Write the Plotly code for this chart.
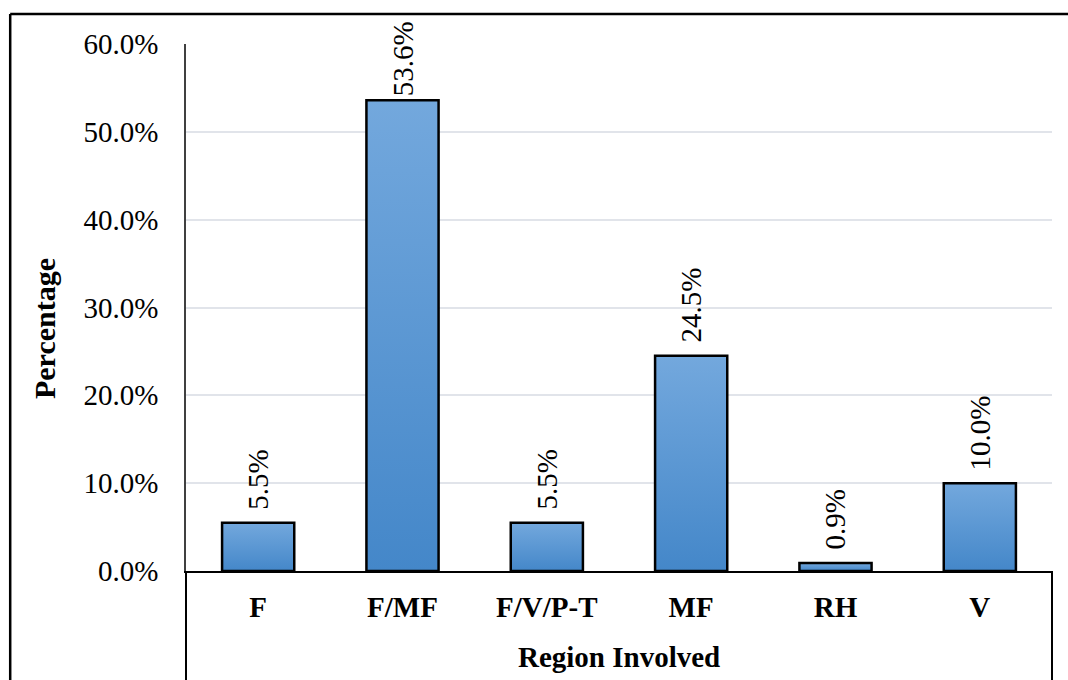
import plotly.graph_objects as go

# Share of cases by region involved
categories = ["F", "F/MF", "F/V/P-T", "MF", "RH", "V"]
values = [0.055, 0.536, 0.055, 0.245, 0.009, 0.100]
labels = ["5.5%", "53.6%", "5.5%", "24.5%", "0.9%", "10.0%"]

FONT = "Times New Roman, Liberation Serif, serif"
FS = 29
BAR_W = 0.5
TOP_COLOR = "#73a8dd"
BOTTOM_COLOR = "#4487c9"

fig = go.Figure()

# Each bar: gradient fill (light at the top, darker at the base) with a black outline
for i, v in enumerate(values):
    x0, x1 = i - BAR_W / 2, i + BAR_W / 2
    fig.add_trace(go.Scatter(
        x=[x0, x1, x1, x0, x0],
        y=[0, 0, v, v, 0],
        mode="lines",
        line=dict(color="black", width=2.5),
        fill="toself",
        fillgradient=dict(type="vertical",
                          colorscale=[[0, BOTTOM_COLOR], [1, TOP_COLOR]]),
        hoverinfo="skip",
        showlegend=False,
        cliponaxis=False,
    ))

# Rotated value labels above the bars
value_labels = []
for i, (v, lab) in enumerate(zip(values, labels)):
    value_labels.append(dict(
        x=i, y=v, xref="x", yref="y", text=lab, textangle=-90,
        xanchor="center", yanchor="bottom", showarrow=False,
        yshift=2 if v > 0.5 else 11,
        font=dict(family=FONT, size=FS, color="black"),
    ))

fig.update_layout(
    width=1068, height=680,
    margin=dict(l=186, r=16, t=44, b=109),
    paper_bgcolor="white", plot_bgcolor="white",
    font=dict(family=FONT, size=FS, color="black"),
    showlegend=False,
    xaxis=dict(
        range=[-0.5, len(categories) - 0.5],
        tickvals=list(range(len(categories))),
        ticktext=categories,
        tickfont=dict(family=FONT, size=FS, color="black", weight="bold"),
        showgrid=False, zeroline=False,
        showline=True, linecolor="black", linewidth=2,
        ticks="outside", ticklen=9, tickcolor="rgba(0,0,0,0)",
        fixedrange=True,
    ),
    yaxis=dict(
        range=[0, 0.6],
        dtick=0.1,
        tickformat=".1%",
        tickfont=dict(family=FONT, size=FS, color="black"),
        showgrid=True, gridcolor="#e1e4ea", gridwidth=1.5,
        zeroline=False,
        showline=True, linecolor="#404040", linewidth=1.5,
        ticks="outside", ticklen=20, tickcolor="rgba(0,0,0,0)",
        fixedrange=True,
    ),
    annotations=value_labels + [
        dict(text="<b>Percentage</b>", xref="paper", yref="paper",
             x=-0.164, y=0.461, xanchor="center", yanchor="middle",
             textangle=-90, showarrow=False,
             font=dict(family=FONT, size=30, color="black")),
        dict(text="<b>Region Involved</b>", xref="paper", yref="paper",
             x=0.5, y=-0.163, xanchor="center", yanchor="middle",
             showarrow=False,
             font=dict(family=FONT, size=FS, color="black")),
    ],
    shapes=[
        # outer frame
        dict(type="line", xref="paper", yref="paper",
             x0=-0.203, x1=1.1, y0=1.057, y1=1.057,
             line=dict(color="black", width=2.5)),
        dict(type="line", xref="paper", yref="paper",
             x0=-0.203, x1=-0.203, y0=1.057, y1=-0.3,
             line=dict(color="black", width=2.5)),
        # category band edges below the axis
        dict(type="line", xref="paper", yref="paper",
             x0=0, x1=0, y0=0, y1=-0.3,
             line=dict(color="black", width=2)),
        dict(type="line", xref="paper", yref="paper",
             x0=1, x1=1, y0=0, y1=-0.3,
             line=dict(color="black", width=2)),
    ],
)

fig.write_html("out.html")
